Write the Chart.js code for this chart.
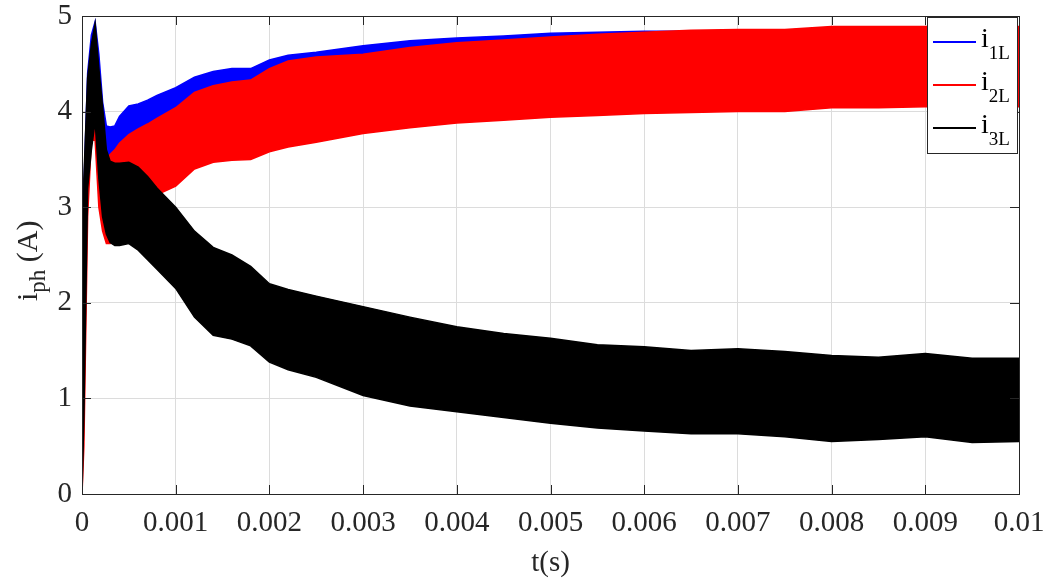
<!DOCTYPE html>
<html>
<head>
<meta charset="utf-8">
<script src="https://cdn.jsdelivr.net/npm/chart.js@4.4.0/dist/chart.umd.min.js"></script>
<style>
  body { margin: 0; background: #fff; }
</style>
</head>
<body>
<canvas id="myChart" width="1048" height="579"></canvas>
<script>
// time axis (s)
var t = [0, 0.00002, 0.00006, 0.0001, 0.00014, 0.00018, 0.00022, 0.00026, 0.0003, 0.00035,
  0.0004, 0.0005, 0.0006, 0.0007, 0.0008, 0.001, 0.0012, 0.0014, 0.0016, 0.0018,
  0.002, 0.0022, 0.0025, 0.003, 0.0035, 0.004, 0.0045, 0.005, 0.0055, 0.006,
  0.0065, 0.007, 0.0075, 0.008, 0.0085, 0.009, 0.0095, 0.01];

// ripple envelopes (A)
var i1Max = [0, 3.2, 4.4, 4.8, 4.94, 4.6, 4.1, 3.85, 3.84, 3.85, 3.95, 4.06, 4.08, 4.12, 4.17, 4.25, 4.36, 4.42, 4.45, 4.45,
  4.54, 4.59, 4.62, 4.69, 4.74, 4.77, 4.79, 4.82, 4.83, 4.84, 4.84, 4.85, 4.85, 4.88, 4.88, 4.88, 4.88, 4.88];
var i1Min = [0, 1.6, 3.3, 3.9, 4.2, 3.8, 3.4, 3.3, 3.45, 3.5, 3.45, 3.3, 3.25, 3.25, 3.25, 3.3, 3.45, 3.52, 3.55, 3.56,
  3.64, 3.68, 3.73, 3.82, 3.88, 3.92, 3.95, 3.98, 4.0, 4.02, 4.03, 4.04, 4.04, 4.07, 4.07, 4.08, 4.08, 4.08];

var i2Max = [0, 2.0, 3.6, 4.1, 4.15, 3.9, 3.7, 3.5, 3.55, 3.6, 3.67, 3.76, 3.82, 3.87, 3.93, 4.04, 4.2, 4.27, 4.31, 4.33,
  4.45, 4.53, 4.57, 4.6, 4.67, 4.72, 4.75, 4.78, 4.81, 4.83, 4.85, 4.86, 4.86, 4.89, 4.89, 4.89, 4.89, 4.89];
var i2Min = [0, 0.5, 2.9, 3.7, 3.7, 3.0, 2.75, 2.62, 2.62, 2.85, 3.0, 3.08, 3.1, 3.11, 3.13, 3.22, 3.4, 3.47, 3.49, 3.5,
  3.58, 3.63, 3.68, 3.77, 3.83, 3.88, 3.91, 3.94, 3.96, 3.98, 3.99, 4.0, 4.0, 4.04, 4.04, 4.05, 4.05, 4.05];

var i3Max = [0, 3.3, 4.35, 4.7, 4.92, 4.45, 4.05, 3.6, 3.48, 3.46, 3.46, 3.47, 3.42, 3.32, 3.2, 3.0, 2.75, 2.58, 2.5, 2.38,
  2.2, 2.14, 2.07, 1.96, 1.85, 1.75, 1.68, 1.63, 1.56, 1.54, 1.5, 1.52, 1.49, 1.45, 1.43, 1.47, 1.42, 1.42];
var i3Min = [0, 0.8, 3.2, 3.6, 3.9, 3.3, 2.9, 2.72, 2.63, 2.6, 2.6, 2.62, 2.55, 2.45, 2.35, 2.15, 1.85, 1.66, 1.62, 1.55,
  1.38, 1.3, 1.22, 1.03, 0.92, 0.86, 0.8, 0.74, 0.69, 0.66, 0.63, 0.63, 0.6, 0.55, 0.57, 0.6, 0.54, 0.55];

var seriesSubs = ["1L", "2L", "3L"];
var seriesColors = ["#0000ff", "#ff0000", "#000000"];

var xTicks = [0, 0.001, 0.002, 0.003, 0.004, 0.005, 0.006, 0.007, 0.008, 0.009, 0.01];
var yTicks = [0, 1, 2, 3, 4, 5];

var FONT = '"Liberation Serif", "Times New Roman", serif';
var AXIS = "#262626";

function pts(arr) {
  return t.map(function (x, i) { return { x: x, y: arr[i] }; });
}

// each series = lower edge + upper edge filled to it
function band(lo, hi, color, order) {
  return [
    { data: pts(lo), borderColor: color, borderWidth: 1.5, pointRadius: 0, fill: false, order: order },
    { data: pts(hi), borderColor: color, borderWidth: 1.5, pointRadius: 0, fill: "-1", backgroundColor: color, order: order }
  ];
}

var datasets = []
  .concat(band(i1Min, i1Max, seriesColors[0], 2))
  .concat(band(i2Min, i2Max, seriesColors[1], 1))
  .concat(band(i3Min, i3Max, seriesColors[2], 0));

// box frame + inward ticks, like matlab
var framePlugin = {
  id: "frame",
  afterDatasetsDraw: function (chart) {
    var ctx = chart.ctx, a = chart.chartArea;
    var sx = chart.scales.x, sy = chart.scales.y;
    ctx.save();
    ctx.strokeStyle = AXIS;
    ctx.lineWidth = 1;
    ctx.strokeRect(Math.round(a.left) + 0.5, Math.round(a.top) + 0.5, Math.round(a.right - a.left), Math.round(a.bottom - a.top));
    ctx.beginPath();
    xTicks.forEach(function (v) {
      var px = Math.round(sx.getPixelForValue(v)) + 0.5;
      ctx.moveTo(px, a.bottom); ctx.lineTo(px, a.bottom - 9);
      ctx.moveTo(px, a.top); ctx.lineTo(px, a.top + 9);
    });
    yTicks.forEach(function (v) {
      var py = Math.round(sy.getPixelForValue(v)) + 0.5;
      ctx.moveTo(a.left, py); ctx.lineTo(a.left + 9, py);
      ctx.moveTo(a.right, py); ctx.lineTo(a.right - 9, py);
    });
    ctx.stroke();
    ctx.restore();
  }
};

// y title with subscript
var yTitlePlugin = {
  id: "ytitle",
  afterDraw: function (chart) {
    var ctx = chart.ctx;
    ctx.save();
    ctx.translate(37, 301);
    ctx.rotate(-Math.PI / 2);
    ctx.fillStyle = AXIS;
    ctx.textBaseline = "alphabetic";
    ctx.font = "30px " + FONT;
    ctx.fillText("i", 0, 0);
    var w = ctx.measureText("i").width;
    ctx.font = "23px " + FONT;
    ctx.fillText("ph", w, 8);
    w += ctx.measureText("ph").width;
    ctx.font = "30px " + FONT;
    ctx.fillText(" (A)", w, 0);
    ctx.restore();
  }
};

// legend box
var legendPlugin = {
  id: "mylegend",
  afterDraw: function (chart) {
    var ctx = chart.ctx;
    var x0 = 927, y0 = 17, w = 90, h = 136;
    ctx.save();
    ctx.fillStyle = "#fff";
    ctx.fillRect(x0, y0, w, h);
    ctx.strokeStyle = AXIS;
    ctx.lineWidth = 1;
    ctx.strokeRect(x0 + 0.5, y0 + 0.5, w, h);
    for (var i = 0; i < seriesSubs.length; i++) {
      var yy = 42 + i * 43;
      ctx.strokeStyle = seriesColors[i];
      ctx.lineWidth = 2;
      ctx.beginPath();
      ctx.moveTo(933, yy); ctx.lineTo(976, yy);
      ctx.stroke();
      ctx.fillStyle = "#000";
      ctx.font = "28px " + FONT;
      ctx.fillText("i", 981, yy + 5);
      var iw = ctx.measureText("i").width;
      ctx.font = "19px " + FONT;
      ctx.fillText(seriesSubs[i], 981 + iw, yy + 17);
    }
    ctx.restore();
  }
};

new Chart(document.getElementById("myChart"), {
  type: "line",
  data: { datasets: datasets },
  plugins: [framePlugin, yTitlePlugin, legendPlugin],
  options: {
    responsive: false,
    animation: false,
    devicePixelRatio: 1,
    layout: { padding: { left: 0, top: 16, right: 29, bottom: 0 } },
    plugins: { legend: { display: false }, tooltip: { enabled: false } },
    elements: { line: { tension: 0 } },
    scales: {
      x: {
        type: "linear",
        min: 0,
        max: 0.01,
        afterFit: function (s) { s.height = 85; s.paddingLeft = 0; s.paddingRight = 0; },
        afterBuildTicks: function (s) { s.ticks = xTicks.map(function (v) { return { value: v }; }); },
        ticks: {
          color: AXIS,
          font: { family: FONT, size: 29 },
          padding: 12,
          maxRotation: 0,
          autoSkip: false,
          callback: function (v) { return String(parseFloat(v.toFixed(3))); }
        },
        grid: { color: "#dcdcdc", lineWidth: 1, drawTicks: false },
        border: { display: false },
        title: {
          display: true,
          text: "t(s)",
          color: AXIS,
          font: { family: FONT, size: 29, lineHeight: 1.1 },
          padding: { top: 0, bottom: 0 }
        }
      },
      y: {
        min: 0,
        max: 5,
        afterFit: function (s) { s.width = 82; s.paddingTop = 0; s.paddingBottom = 0; },
        afterBuildTicks: function (s) { s.ticks = yTicks.map(function (v) { return { value: v }; }); },
        ticks: {
          color: AXIS,
          font: { family: FONT, size: 29 },
          padding: 10
        },
        grid: { color: "#dcdcdc", lineWidth: 1, drawTicks: false },
        border: { display: false }
      }
    }
  }
});
</script>
</body>
</html>
